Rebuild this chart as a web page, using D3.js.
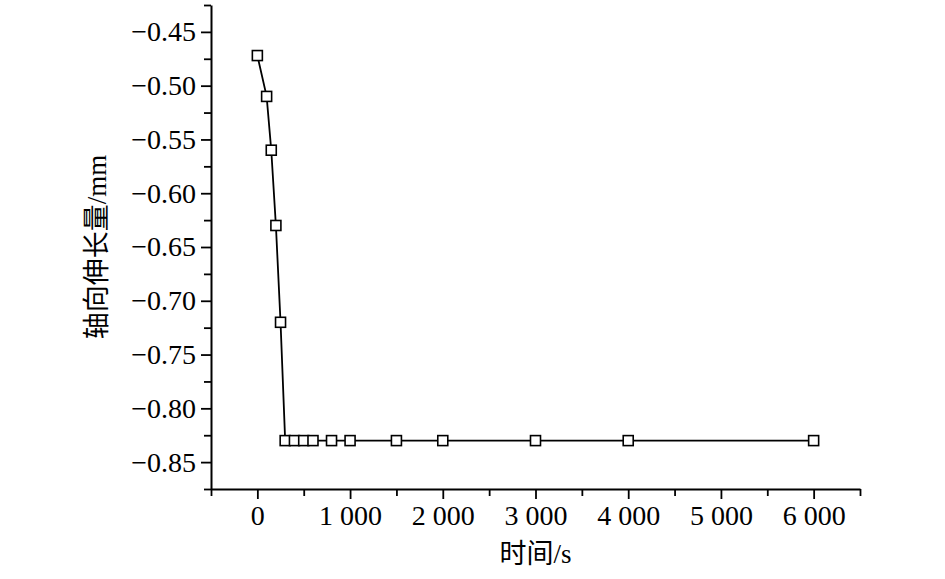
<!DOCTYPE html>
<html>
<head>
<meta charset="utf-8">
<script src="https://cdn.jsdelivr.net/npm/d3@7"></script>
<style>
  body{margin:0;background:#fff;}
  text{font-family:"Liberation Serif","Times New Roman","Noto Sans CJK SC",serif;fill:#000;}
</style>
</head>
<body>
<div id="viz"></div>
<script>
// data
var timeS=[0,100,150,200,250,300,400,500,600,800,1000,1500,2000,3000,4000,6000];
var elongation=[-0.472,-0.51,-0.56,-0.63,-0.72,-0.83,-0.83,-0.83,-0.83,-0.83,-0.83,-0.83,-0.83,-0.83,-0.83,-0.83];
var xTicks=[0,1000,2000,3000,4000,5000,6000];
var xMinor=[-500,500,1500,2500,3500,4500,5500,6500];
var yTicks=[-0.85,-0.80,-0.75,-0.70,-0.65,-0.60,-0.55,-0.50,-0.45];
var yMinor=[-0.875,-0.825,-0.775,-0.725,-0.675,-0.625,-0.575,-0.525,-0.475,-0.425];
var xTitle='时间/s';
var yTitle='轴向伸长量/mm';
//----------------------------------------------------------------
var width=945,
    height=579,
    mLeft=211,
    mRight=860,
    mTop=5,
    mBottom=489;

var xScale=d3.scaleLinear()
    .domain([-500,6500])
    .range([mLeft,mRight]);

var yScale=d3.scaleLinear()
    .domain([-0.875,-0.425])
    .range([mBottom,mTop]);

var spaceFmt=d3.formatLocale({decimal:'.',thousands:' ',grouping:[3],currency:['','']}).format(',');
var yFmt=d3.format('.2f');

var svg=d3.select('#viz').append('svg')
    .attr('width',width)
    .attr('height',height);

// minor ticks
svg.append('g')
    .attr('transform','translate(0,'+mBottom+')')
    .call(d3.axisBottom(xScale).tickValues(xMinor).tickSize(7).tickSizeOuter(0).tickFormat(''))
    .call(function(g){g.select('.domain').remove();});
svg.append('g')
    .attr('transform','translate('+mLeft+',0)')
    .call(d3.axisLeft(yScale).tickValues(yMinor).tickSize(7).tickSizeOuter(0).tickFormat(''))
    .call(function(g){g.select('.domain').remove();});

// major axes
svg.append('g')
    .attr('transform','translate(0,'+mBottom+')')
    .call(d3.axisBottom(xScale).tickValues(xTicks).tickSize(10).tickSizeOuter(0).tickPadding(6).tickFormat(spaceFmt));
svg.append('g')
    .attr('transform','translate('+mLeft+',0)')
    .call(d3.axisLeft(yScale).tickValues(yTicks).tickSize(10).tickSizeOuter(0).tickPadding(5).tickFormat(yFmt));

svg.selectAll('.tick line').attr('stroke','#000').attr('stroke-width',1.8);
svg.selectAll('.domain').attr('stroke','#000').attr('stroke-width',2);
svg.selectAll('.tick text')
    .style('font-family','"Liberation Serif","Times New Roman",serif')
    .style('font-size','28px');

// titles
svg.append('text')
    .attr('x',(mLeft+mRight)/2)
    .attr('y',563)
    .attr('text-anchor','middle')
    .style('font-size','27px')
    .text(xTitle);
svg.append('text')
    .attr('transform','translate(106,'+((mTop+mBottom)/2)+') rotate(-90)')
    .attr('text-anchor','middle')
    .style('font-size','27px')
    .text(yTitle);

// line + markers
var line=d3.line()
    .x(function(d,i){return xScale(timeS[i]);})
    .y(function(d){return yScale(d);});

svg.append('path')
    .datum(elongation)
    .attr('d',line)
    .attr('fill','none')
    .attr('stroke','#000')
    .attr('stroke-width',1.8);

svg.selectAll('rect.pt').data(elongation)
    .enter().append('rect')
    .attr('class','pt')
    .attr('x',function(d,i){return xScale(timeS[i])-5;})
    .attr('y',function(d){return yScale(d)-5;})
    .attr('width',10)
    .attr('height',10)
    .attr('fill','#fff')
    .attr('stroke','#000')
    .attr('stroke-width',1.6);
</script>
</body>
</html>
